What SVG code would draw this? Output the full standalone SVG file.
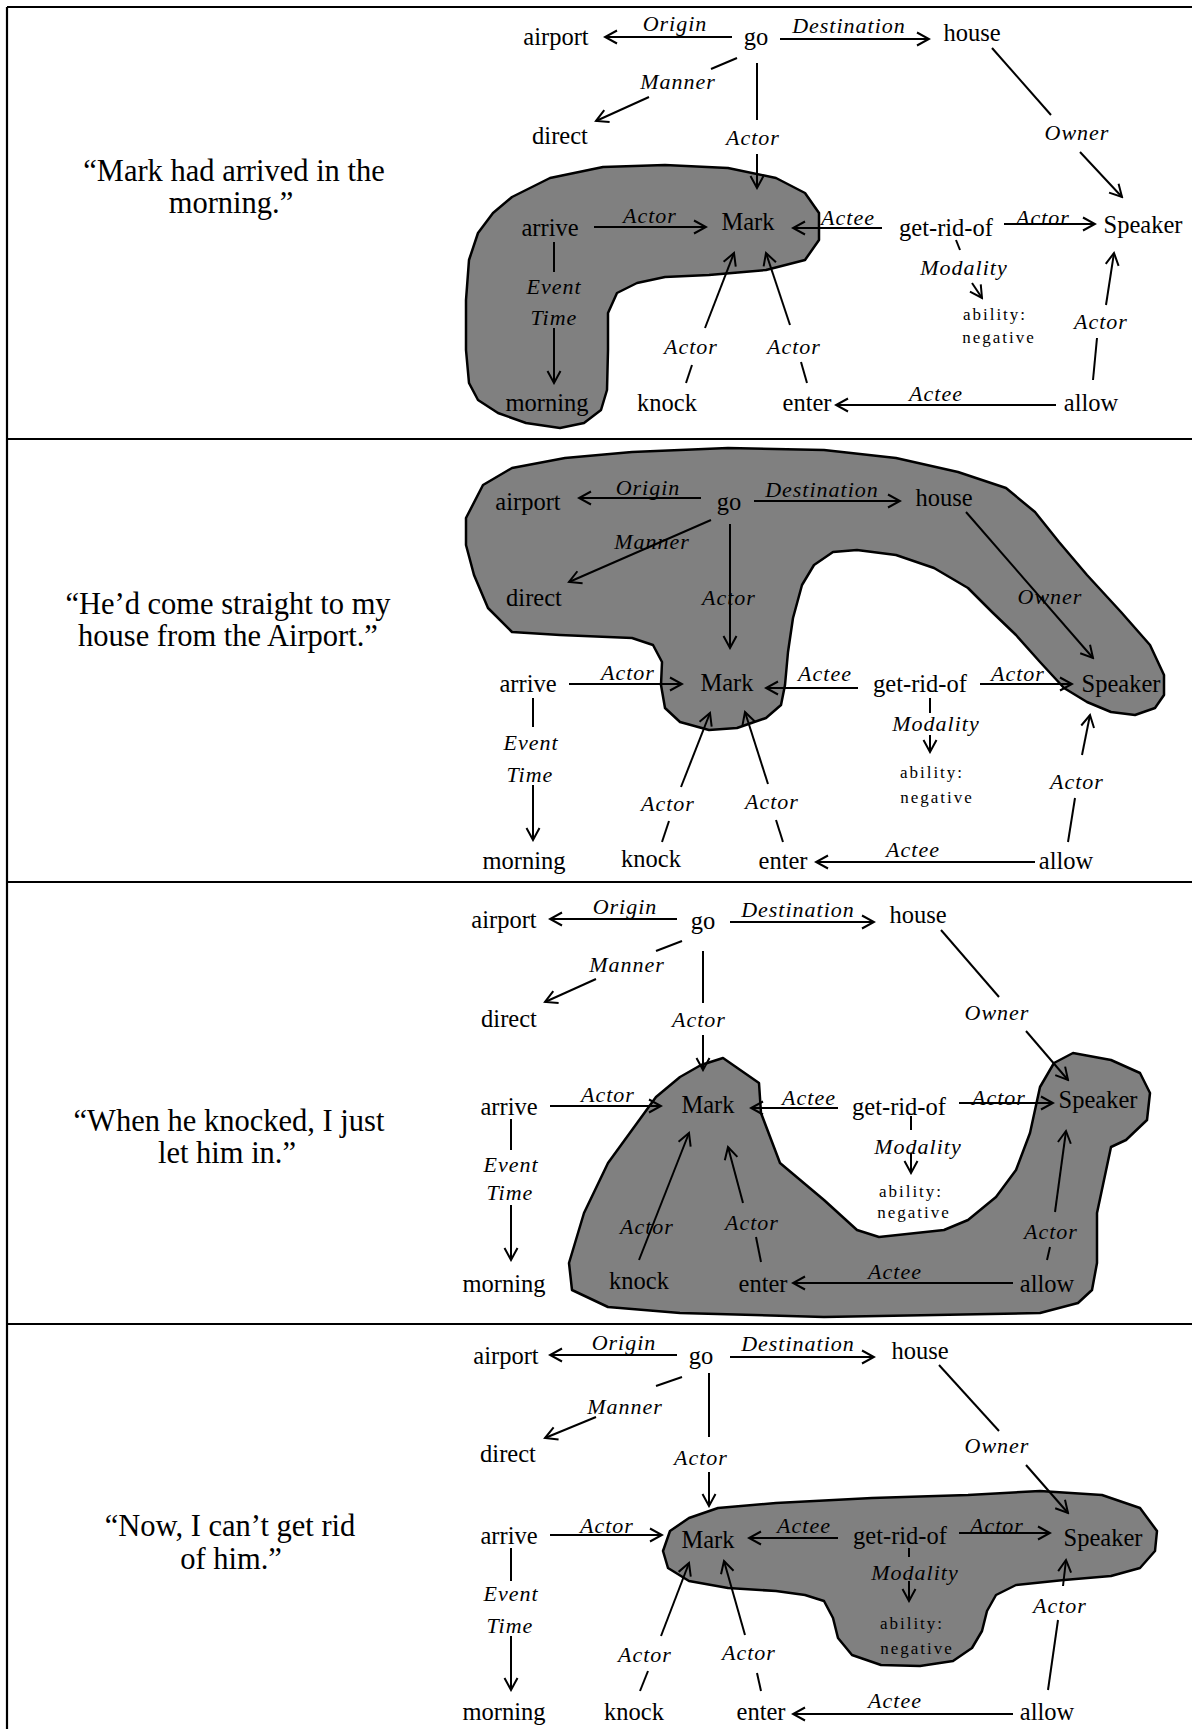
<svg xmlns="http://www.w3.org/2000/svg" width="1192" height="1729" viewBox="0 0 1192 1729">
<defs>
<marker id="arr" viewBox="0 0 16 16" refX="14" refY="8" markerWidth="16" markerHeight="16" markerUnits="userSpaceOnUse" orient="auto">
<path d="M2,1.5 L14,8 L2,14.5" fill="none" stroke="#000" stroke-width="2"/>
</marker>
<style>
text { font-family: "Liberation Serif", "Times New Roman", serif; fill:#000; }
.n { font-size:24.5px; text-anchor:middle; }
.l { font-size:22px; font-style:italic; letter-spacing:1px; text-anchor:middle; }
.s { font-size:17px; letter-spacing:2px; text-anchor:middle; }
.q { font-size:30.5px; text-anchor:middle; }
.e { stroke:#000; stroke-width:2; fill:none; }
.a { marker-end:url(#arr); }
.blob { fill:#808080; stroke:#000; stroke-width:2.5; stroke-linejoin:round; }
.rule { stroke:#000; stroke-width:2.2; fill:none; }
</style>
</defs>
<rect width="1192" height="1729" fill="#fff"/>

<g id="table">
<line class="rule" x1="7" y1="7" x2="1192" y2="7"/>
<line class="rule" x1="7" y1="7" x2="7" y2="1729"/>
<line class="rule" x1="7" y1="439" x2="1192" y2="439"/>
<line class="rule" x1="7" y1="882" x2="1192" y2="882"/>
<line class="rule" x1="7" y1="1324" x2="1192" y2="1324"/>
</g>

<g id="quotes">
<g id="q1"><text class="q" x="234" y="181">“Mark had arrived in the</text><text class="q" x="231" y="213">morning.”</text></g>
<g id="q2"><text class="q" x="228" y="614">“He’d come straight to my</text><text class="q" x="228" y="646">house from the Airport.”</text></g>
<g id="q3"><text class="q" x="229" y="1131">“When he knocked, I just</text><text class="q" x="227" y="1163">let him in.”</text></g>
<g id="q4"><text class="q" x="230" y="1536">“Now, I can’t get rid</text><text class="q" x="231" y="1569">of him.”</text></g>
</g>

<!-- Panel 1 -->
<g id="panel1">
<path class="blob" d="M512,197 L550,178 L603,167 L665,165 L728,168 L776,178 L805,193 L819,213 L819,240 L805,260 L766,270 L709,275 L665,277 L637,283 L617,293 L608,313 L608,350 L607,390 L601,410 L584,423 L560,428 L526,423 L498,413 L478,400 L469,383 L466,350 L466,300 L469,260 L478,233 L493,213 Z"/>
<g id="p1-connectors">
<line class="e a" x1="732" y1="37" x2="605" y2="37"/>
<line class="e a" x1="780" y1="39" x2="929" y2="39"/>
<line class="e" x1="737" y1="58" x2="711" y2="69"/>
<line class="e a" x1="649" y1="97" x2="596" y2="121"/>
<line class="e" x1="757" y1="63" x2="757" y2="120"/>
<line class="e a" x1="757" y1="154" x2="757" y2="188"/>
<line class="e" x1="992" y1="48" x2="1051" y2="115"/>
<line class="e a" x1="1080" y1="152" x2="1122" y2="197"/>
<line class="e a" x1="594" y1="227" x2="706" y2="227"/>
<line class="e a" x1="882" y1="228" x2="793" y2="228"/>
<line class="e a" x1="1004" y1="224" x2="1095" y2="224"/>
<line class="e" x1="554" y1="242" x2="554" y2="272"/>
<line class="e a" x1="554" y1="328" x2="554" y2="383"/>
<line class="e" x1="956" y1="240" x2="960" y2="250"/>
<line class="e a" x1="972" y1="283" x2="982" y2="298"/>
<line class="e" x1="692" y1="365" x2="686" y2="383"/>
<line class="e a" x1="705" y1="328" x2="734" y2="253"/>
<line class="e" x1="801" y1="362" x2="807" y2="383"/>
<line class="e a" x1="790" y1="325" x2="766" y2="253"/>
<line class="e" x1="1097" y1="338" x2="1093" y2="380"/>
<line class="e a" x1="1106" y1="305" x2="1114" y2="253"/>
<line class="e a" x1="1056" y1="405" x2="836" y2="405"/>
<text class="l" x="675" y="31">Origin</text>
<text class="l" x="849" y="33">Destination</text>
<text class="l" x="678" y="89">Manner</text>
<text class="l" x="753" y="145">Actor</text>
<text class="l" x="1077" y="140">Owner</text>
<text class="l" x="650" y="223">Actor</text>
<text class="l" x="848" y="225">Actee</text>
<text class="l" x="1043" y="225">Actor</text>
<text class="l" x="964" y="275">Modality</text>
<text class="l" x="554" y="294">Event</text>
<text class="l" x="554" y="325">Time</text>
<text class="l" x="691" y="354">Actor</text>
<text class="l" x="794" y="354">Actor</text>
<text class="l" x="1101" y="329">Actor</text>
<text class="l" x="936" y="401">Actee</text>
</g>
<g id="p1-airport"><text class="n" x="556" y="45">airport</text></g>
<g id="p1-go"><text class="n" x="756" y="45">go</text></g>
<g id="p1-house"><text class="n" x="972" y="41">house</text></g>
<g id="p1-direct"><text class="n" x="560" y="144">direct</text></g>
<g id="p1-mark"><text class="n" x="748" y="230">Mark</text></g>
<g id="p1-arrive"><text class="n" x="550" y="236">arrive</text></g>
<g id="p1-getridof"><text class="n" x="946" y="236">get-rid-of</text></g>
<g id="p1-speaker"><text class="n" x="1143" y="233">Speaker</text></g>
<g id="p1-ability"><text class="s" x="995" y="320">ability:</text><text class="s" x="999" y="343">negative</text></g>
<g id="p1-morning"><text class="n" x="547" y="411">morning</text></g>
<g id="p1-knock"><text class="n" x="667" y="411">knock</text></g>
<g id="p1-enter"><text class="n" x="807" y="411">enter</text></g>
<g id="p1-allow"><text class="n" x="1091" y="411">allow</text></g>
</g>

<!-- Panel 2 -->
<g id="panel2">
<path class="blob" d="M466,518 L483,485 L512,468 L565,458 L632,452 L728,448 L824,450 L896,458 L958,472 L1006,488 L1035,512 L1059,542 L1087,575 L1121,612 L1150,645 L1164,675 L1164,695 L1155,708 L1135,715 L1111,712 L1087,702 L1064,688 L1040,662 L1016,635 L992,612 L968,588 L934,568 L896,555 L857,550 L833,552 L814,565 L802,585 L793,618 L788,652 L785,685 L781,705 L766,718 L737,728 L709,730 L680,722 L665,708 L661,685 L662,662 L653,645 L632,638 L560,635 L512,632 L488,608 L474,575 L466,545 Z"/>
<g id="p2-connectors">
<line class="e a" x1="701" y1="498" x2="579" y2="498"/>
<line class="e a" x1="754" y1="501" x2="900" y2="501"/>
<line class="e a" x1="711" y1="520" x2="569" y2="582"/>
<line class="e a" x1="730" y1="524" x2="730" y2="648"/>
<line class="e a" x1="966" y1="512" x2="1093" y2="658"/>
<line class="e a" x1="569" y1="684" x2="682" y2="684"/>
<line class="e a" x1="858" y1="688" x2="766" y2="688"/>
<line class="e a" x1="980" y1="684" x2="1072" y2="684"/>
<line class="e" x1="533" y1="698" x2="533" y2="727"/>
<line class="e a" x1="533" y1="785" x2="533" y2="840"/>
<line class="e" x1="930" y1="698" x2="930" y2="713"/>
<line class="e a" x1="930" y1="735" x2="930" y2="752"/>
<line class="e" x1="669" y1="821" x2="662" y2="842"/>
<line class="e a" x1="681" y1="787" x2="710" y2="713"/>
<line class="e" x1="776" y1="820" x2="783" y2="842"/>
<line class="e a" x1="768" y1="784" x2="745" y2="712"/>
<line class="e" x1="1075" y1="798" x2="1068" y2="842"/>
<line class="e a" x1="1082" y1="755" x2="1090" y2="715"/>
<line class="e a" x1="1035" y1="862" x2="816" y2="862"/>
<text class="l" x="648" y="495">Origin</text>
<text class="l" x="822" y="497">Destination</text>
<text class="l" x="652" y="549">Manner</text>
<text class="l" x="729" y="605">Actor</text>
<text class="l" x="1050" y="604">Owner</text>
<text class="l" x="628" y="680">Actor</text>
<text class="l" x="825" y="681">Actee</text>
<text class="l" x="1018" y="681">Actor</text>
<text class="l" x="936" y="731">Modality</text>
<text class="l" x="531" y="750">Event</text>
<text class="l" x="530" y="782">Time</text>
<text class="l" x="668" y="811">Actor</text>
<text class="l" x="772" y="809">Actor</text>
<text class="l" x="1077" y="789">Actor</text>
<text class="l" x="913" y="857">Actee</text>
</g>
<g id="p2-airport"><text class="n" x="528" y="510">airport</text></g>
<g id="p2-go"><text class="n" x="729" y="510">go</text></g>
<g id="p2-house"><text class="n" x="944" y="506">house</text></g>
<g id="p2-direct"><text class="n" x="534" y="606">direct</text></g>
<g id="p2-mark"><text class="n" x="727" y="691">Mark</text></g>
<g id="p2-arrive"><text class="n" x="528" y="692">arrive</text></g>
<g id="p2-getridof"><text class="n" x="920" y="692">get-rid-of</text></g>
<g id="p2-speaker"><text class="n" x="1121" y="692">Speaker</text></g>
<g id="p2-ability"><text class="s" x="932" y="778">ability:</text><text class="s" x="937" y="803">negative</text></g>
<g id="p2-morning"><text class="n" x="524" y="869">morning</text></g>
<g id="p2-knock"><text class="n" x="651" y="867">knock</text></g>
<g id="p2-enter"><text class="n" x="783" y="869">enter</text></g>
<g id="p2-allow"><text class="n" x="1066" y="869">allow</text></g>
</g>

<!-- Panel 3 -->
<g id="panel3">
<path class="blob" d="M723,1058 L759,1083 L761,1113 L780,1163 L824,1200 L857,1230 L879,1237 L944,1230 L968,1220 L996,1197 L1016,1170 L1030,1133 L1040,1087 L1054,1063 L1073,1053 L1111,1060 L1140,1073 L1150,1093 L1147,1120 L1126,1140 L1111,1147 L1097,1213 L1097,1263 L1092,1290 L1078,1303 L1040,1313 L824,1317 L680,1313 L608,1307 L572,1290 L569,1263 L584,1213 L608,1163 L632,1130 L656,1097 L680,1077 L701,1065 Z"/>
<g id="p3-connectors">
<line class="e a" x1="677" y1="919" x2="550" y2="919"/>
<line class="e a" x1="730" y1="922" x2="874" y2="922"/>
<line class="e" x1="682" y1="941" x2="656" y2="951"/>
<line class="e a" x1="596" y1="979" x2="545" y2="1002"/>
<line class="e" x1="703" y1="951" x2="703" y2="1003"/>
<line class="e a" x1="703" y1="1035" x2="703" y2="1070"/>
<line class="e" x1="941" y1="930" x2="999" y2="997"/>
<line class="e a" x1="1026" y1="1031" x2="1068" y2="1080"/>
<line class="e a" x1="550" y1="1106" x2="661" y2="1106"/>
<line class="e a" x1="838" y1="1108" x2="751" y2="1108"/>
<line class="e a" x1="959" y1="1103" x2="1053" y2="1103"/>
<line class="e" x1="511" y1="1119" x2="511" y2="1150"/>
<line class="e a" x1="511" y1="1205" x2="511" y2="1260"/>
<line class="e" x1="911" y1="1116" x2="911" y2="1130"/>
<line class="e a" x1="911" y1="1153" x2="911" y2="1173"/>
<line class="e a" x1="639" y1="1260" x2="689" y2="1133"/>
<line class="e" x1="761" y1="1262" x2="756" y2="1237"/>
<line class="e a" x1="743" y1="1203" x2="728" y2="1147"/>
<line class="e" x1="1047" y1="1260" x2="1050" y2="1247"/>
<line class="e a" x1="1055" y1="1212" x2="1066" y2="1131"/>
<line class="e a" x1="1013" y1="1283" x2="793" y2="1283"/>
<text class="l" x="625" y="914">Origin</text>
<text class="l" x="798" y="917">Destination</text>
<text class="l" x="627" y="972">Manner</text>
<text class="l" x="699" y="1027">Actor</text>
<text class="l" x="997" y="1020">Owner</text>
<text class="l" x="608" y="1102">Actor</text>
<text class="l" x="809" y="1105">Actee</text>
<text class="l" x="999" y="1105">Actor</text>
<text class="l" x="918" y="1154">Modality</text>
<text class="l" x="511" y="1172">Event</text>
<text class="l" x="510" y="1200">Time</text>
<text class="l" x="647" y="1234">Actor</text>
<text class="l" x="752" y="1230">Actor</text>
<text class="l" x="1051" y="1239">Actor</text>
<text class="l" x="895" y="1279">Actee</text>
</g>
<g id="p3-airport"><text class="n" x="504" y="928">airport</text></g>
<g id="p3-go"><text class="n" x="703" y="929">go</text></g>
<g id="p3-house"><text class="n" x="918" y="923">house</text></g>
<g id="p3-direct"><text class="n" x="509" y="1027">direct</text></g>
<g id="p3-mark"><text class="n" x="708" y="1113">Mark</text></g>
<g id="p3-arrive"><text class="n" x="509" y="1115">arrive</text></g>
<g id="p3-getridof"><text class="n" x="899" y="1115">get-rid-of</text></g>
<g id="p3-speaker"><text class="n" x="1098" y="1108">Speaker</text></g>
<g id="p3-ability"><text class="s" x="911" y="1197">ability:</text><text class="s" x="914" y="1218">negative</text></g>
<g id="p3-morning"><text class="n" x="504" y="1292">morning</text></g>
<g id="p3-knock"><text class="n" x="639" y="1289">knock</text></g>
<g id="p3-enter"><text class="n" x="763" y="1292">enter</text></g>
<g id="p3-allow"><text class="n" x="1047" y="1292">allow</text></g>
</g>

<!-- Panel 4 -->
<g id="panel4">
<path class="blob" d="M663,1551 L670,1531 L689,1518 L718,1508 L776,1503 L872,1498 L968,1495 L1040,1491 L1102,1495 L1140,1508 L1157,1531 L1155,1551 L1140,1568 L1111,1576 L1064,1580 L1016,1585 L996,1595 L987,1611 L982,1631 L972,1648 L953,1661 L920,1666 L881,1665 L852,1655 L838,1638 L833,1618 L824,1601 L805,1595 L776,1591 L728,1588 L689,1581 L668,1568 Z"/>
<g id="p4-connectors">
<line class="e a" x1="677" y1="1355" x2="550" y2="1355"/>
<line class="e a" x1="730" y1="1357" x2="874" y2="1357"/>
<line class="e" x1="682" y1="1377" x2="656" y2="1386"/>
<line class="e a" x1="596" y1="1417" x2="545" y2="1438"/>
<line class="e" x1="709" y1="1373" x2="709" y2="1437"/>
<line class="e a" x1="709" y1="1472" x2="709" y2="1506"/>
<line class="e" x1="939" y1="1365" x2="999" y2="1431"/>
<line class="e a" x1="1026" y1="1465" x2="1068" y2="1513"/>
<line class="e a" x1="550" y1="1535" x2="662" y2="1535"/>
<line class="e a" x1="838" y1="1538" x2="749" y2="1538"/>
<line class="e a" x1="959" y1="1533" x2="1050" y2="1533"/>
<line class="e" x1="511" y1="1548" x2="511" y2="1581"/>
<line class="e a" x1="511" y1="1636" x2="511" y2="1690"/>
<line class="e" x1="909" y1="1548" x2="909" y2="1557"/>
<line class="e a" x1="909" y1="1581" x2="909" y2="1601"/>
<line class="e" x1="648" y1="1671" x2="640" y2="1691"/>
<line class="e a" x1="661" y1="1636" x2="689" y2="1563"/>
<line class="e" x1="757" y1="1673" x2="761" y2="1691"/>
<line class="e a" x1="745" y1="1635" x2="724" y2="1561"/>
<line class="e" x1="1058" y1="1620" x2="1048" y2="1690"/>
<line class="e a" x1="1063" y1="1586" x2="1066" y2="1560"/>
<line class="e a" x1="1013" y1="1714" x2="793" y2="1714"/>
<text class="l" x="624" y="1350">Origin</text>
<text class="l" x="798" y="1351">Destination</text>
<text class="l" x="625" y="1414">Manner</text>
<text class="l" x="701" y="1465">Actor</text>
<text class="l" x="997" y="1453">Owner</text>
<text class="l" x="607" y="1533">Actor</text>
<text class="l" x="804" y="1533">Actee</text>
<text class="l" x="997" y="1533">Actor</text>
<text class="l" x="915" y="1580">Modality</text>
<text class="l" x="511" y="1601">Event</text>
<text class="l" x="510" y="1633">Time</text>
<text class="l" x="645" y="1662">Actor</text>
<text class="l" x="749" y="1660">Actor</text>
<text class="l" x="1060" y="1613">Actor</text>
<text class="l" x="895" y="1708">Actee</text>
</g>
<g id="p4-airport"><text class="n" x="506" y="1364">airport</text></g>
<g id="p4-go"><text class="n" x="701" y="1364">go</text></g>
<g id="p4-house"><text class="n" x="920" y="1359">house</text></g>
<g id="p4-direct"><text class="n" x="508" y="1462">direct</text></g>
<g id="p4-mark"><text class="n" x="708" y="1548">Mark</text></g>
<g id="p4-arrive"><text class="n" x="509" y="1544">arrive</text></g>
<g id="p4-getridof"><text class="n" x="900" y="1544">get-rid-of</text></g>
<g id="p4-speaker"><text class="n" x="1103" y="1546">Speaker</text></g>
<g id="p4-ability"><text class="s" x="912" y="1629">ability:</text><text class="s" x="917" y="1654">negative</text></g>
<g id="p4-morning"><text class="n" x="504" y="1720">morning</text></g>
<g id="p4-knock"><text class="n" x="634" y="1720">knock</text></g>
<g id="p4-enter"><text class="n" x="761" y="1720">enter</text></g>
<g id="p4-allow"><text class="n" x="1047" y="1720">allow</text></g>
</g>
</svg>
